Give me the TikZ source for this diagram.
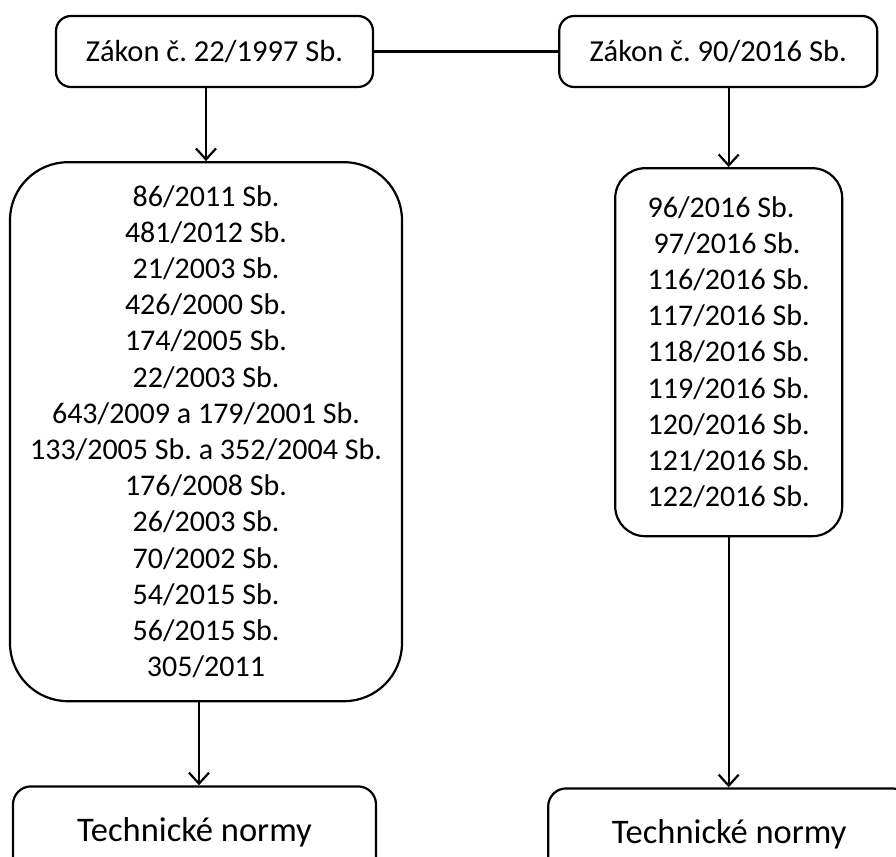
\documentclass[tikz,border=0pt]{standalone}
\usepackage{fontspec}
\setmainfont{Carlito}
\usetikzlibrary{arrows.meta, positioning}
\tikzset{
  zakon/.style={
    rectangle, rounded corners=15pt, minimum width=317pt, minimum height=71pt,
    inner sep=0pt, text centered, draw=black, line width=2.2pt,
    font=\fontsize{30.5}{36}\selectfont
  },
  vyhlasky/.style={
    rectangle, inner sep=0pt, draw=black, line width=2.2pt,
    font=\fontsize{30}{36.2}\selectfont
  },
  normy/.style={
    rectangle, rounded corners=18pt, minimum width=362pt, minimum height=92pt,
    inner sep=0pt, text centered, draw=black, line width=2.2pt,
    font=\fontsize{34.5}{40}\selectfont
  },
  spojnice/.style={
    line width=2.2pt, color=black
  },
  arrow/.style={
    -{Straight Barb[length=11pt,width=20pt]}, line width=2.2pt, color=black
  }
}

\begin{document}
\begin{tikzpicture}[x=1pt, y=-1pt]

\clip (0,0) rectangle (896,856);

% Zákony
\node (zakon_22) [zakon] at (214.5,51.5) {Zákon č.\ 22/1997 Sb.};
\node (zakon_90) [zakon, right=184pt of zakon_22, minimum width=318pt] {Zákon č.\ 90/2016 Sb.};

% Prováděcí předpisy
\node[align=center] (vyhlasky_22) [vyhlasky, rounded corners=58pt, minimum width=392pt, minimum height=539pt,
  below=73pt of zakon_22, xshift=-8.5pt] {
  86/2011 Sb.\\
  481/2012 Sb.\\
  21/2003 Sb.\\
  426/2000 Sb.\\
  174/2005 Sb.\\
  22/2003 Sb.\\
  643/2009 a 179/2001 Sb.\\
  133/2005 Sb.\ a 352/2004 Sb.\\
  176/2008 Sb.\\
  26/2003 Sb.\\
  70/2002 Sb.\\
  54/2015 Sb.\\
  56/2015 Sb.\\
  305/2011
};
\node[align=left] (vyhlasky_90) [vyhlasky, rounded corners=30pt, minimum width=227pt, minimum height=368pt,
  below=79pt of zakon_90, xshift=10.5pt] {
  96/2016 Sb.\\
  \hspace*{6pt}97/2016 Sb.\\
  116/2016 Sb.\\
  117/2016 Sb.\\
  118/2016 Sb.\\
  119/2016 Sb.\\
  120/2016 Sb.\\
  121/2016 Sb.\\
  122/2016 Sb.
};

% Technické normy
\node (normy_22) [normy, minimum width=363pt, below=83pt of vyhlasky_22, xshift=-11.5pt] {Technické normy};
\node (normy_90) [normy, below=250pt of vyhlasky_90, xshift=0.5pt] {Technické normy};

% Spojnice mezi zákony
\draw [spojnice] (zakon_22) -- (zakon_90);

% Šipky
\draw [arrow] (vyhlasky_22.north |- zakon_22.south) -- (vyhlasky_22.north);
\draw [arrow] (vyhlasky_90.north |- zakon_90.south) -- (vyhlasky_90.north);
\draw [arrow] ([xshift=-7pt]vyhlasky_22.south) -- ([xshift=-7pt]vyhlasky_22.south |- normy_22.north);
\draw [arrow] (vyhlasky_90.south) -- (vyhlasky_90.south |- normy_90.north);

\end{tikzpicture}
\end{document}
